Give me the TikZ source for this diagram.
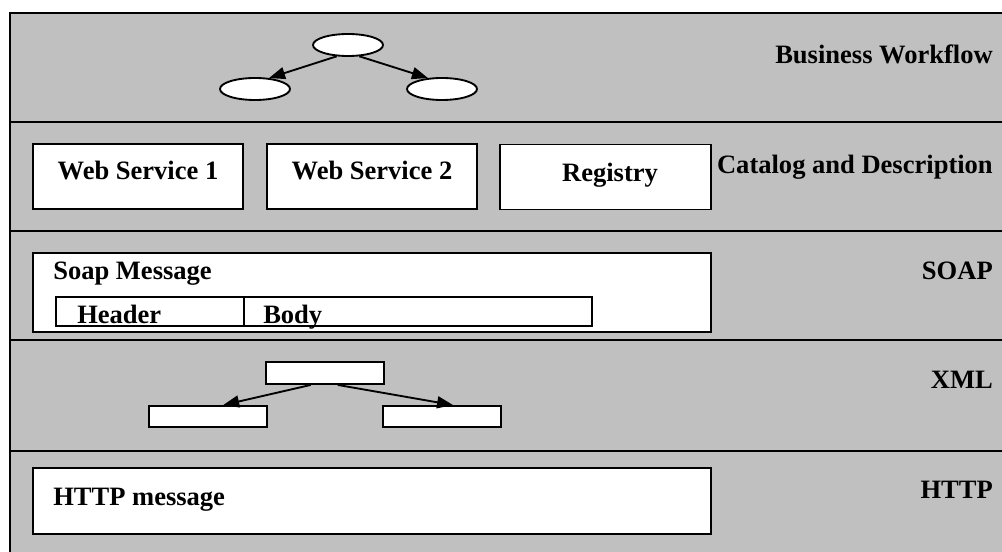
\documentclass[tikz,border=0pt]{standalone}
\usepackage{fontspec}
\setmainfont{Liberation Serif}
\usetikzlibrary{arrows.meta,shapes.geometric}
\definecolor{layergray}{RGB}{192,192,192}
\begin{document}
\begin{tikzpicture}[x=0.75pt,y=-0.75pt,
  font=\fontsize{19.9}{22}\selectfont\bfseries,
  layer/.style={draw=black,line width=1.5pt,fill=layergray},
  wbox/.style={draw=black,line width=1.4pt,fill=white,inner sep=0pt},
  oval/.style={ellipse,draw=black,line width=1.4pt,fill=white,inner sep=0pt,
    minimum width=52.5pt,minimum height=16.5pt},
  txt/.style={inner sep=0pt},
  arr/.style={line width=1.4pt,-{Triangle[length=12pt,width=9pt]}}]
\useasboundingbox (0,0) rectangle (1002,552);
\clip (0,0) rectangle (1002,552);

% protocol layers, top to bottom
\draw[layer] (10,13) rectangle (1012,122);
\draw[layer] (10,122) rectangle (1012,231);
\draw[layer] (10,231) rectangle (1012,340);
\draw[layer] (10,340) rectangle (1012,451);
\draw[layer] (10,451) rectangle (1012,562);

% layer names
\node[txt,anchor=base east] (lbw)   at (993,64)  {Business Workflow};
\node[txt,anchor=base east] (lcat)  at (993,174) {Catalog and Description};
\node[txt,anchor=base east] (lsoap) at (993,279) {SOAP};
\node[txt,anchor=base east] (lxml)  at (993,388) {XML};
\node[txt,anchor=base east] (lhttp) at (993,498) {HTTP};

% business workflow
\node[oval] (e0) at (348,45) {};
\node[oval] (e1) at (255,89) {};
\node[oval] (e2) at (442,89) {};
\draw[arr] (e0.225) -- (e1.38);
\draw[arr] (e0.315) -- (e2.142);

% catalog and description
\node[wbox,minimum width=157.5pt,minimum height=48.75pt] (ws1) at (138,176.5) {};
\node[wbox,minimum width=157.5pt,minimum height=48.75pt] (ws2) at (372,176.5) {};
\node[wbox,minimum width=158.25pt,minimum height=48.75pt] (reg) at (605.5,177) {};
\node[txt,anchor=base] (tws1) at (138,180) {Web Service 1};
\node[txt,anchor=base] (tws2) at (372,180) {Web Service 2};
\node[txt,anchor=base] (treg) at (610,182) {Registry};

% SOAP message
\node[wbox,minimum width=508.5pt,minimum height=59.25pt] (soap) at (372,292.5) {};
\node[txt,anchor=base west] (tsoap) at (53,279) {Soap Message};
\node[wbox,minimum width=141pt,minimum height=21.75pt] (hdr) at (150,311.5) {};
\node[wbox,minimum width=261pt,minimum height=21.75pt] (bdy) at (418,311.5) {};
\node[txt,anchor=base west] (thdr) at (77,323) {Header};
\node[txt,anchor=base west] (tbdy) at (263,323) {Body};

% XML tree
\node[wbox,minimum width=88.5pt,minimum height=16.5pt] (xt) at (325,373) {};
\node[wbox,minimum width=88.5pt,minimum height=15.75pt] (xl) at (208,416.5) {};
\node[wbox,minimum width=88.5pt,minimum height=15.75pt] (xr) at (442,416.5) {};
\draw[arr] (xt.220) -- (xl.37);
\draw[arr] (xt.317) -- (xr.46);

% HTTP message
\node[wbox,minimum width=508.5pt,minimum height=49.5pt] (http) at (372,501) {};
\node[txt,anchor=base west] (thttp) at (53,505) {HTTP message};
\end{tikzpicture}
\end{document}
